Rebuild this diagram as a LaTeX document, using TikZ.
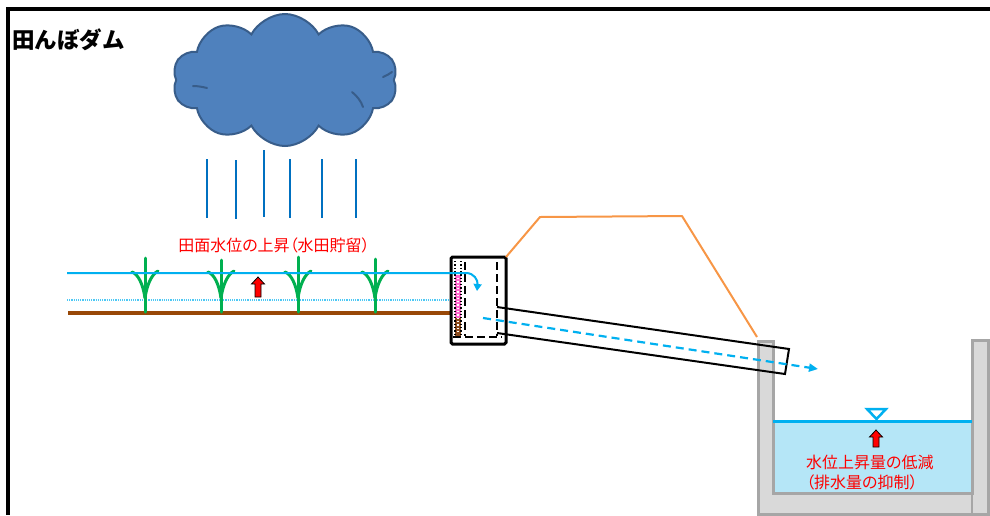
\documentclass[tikz,border=0pt]{standalone}
\usepackage{fontspec}
\usetikzlibrary{shapes.symbols,arrows.meta}
\newfontfamily\jp{Noto Sans CJK JP}
\newfontfamily\jpp[RawFeature=+palt]{Noto Sans CJK JP}
\definecolor{cloudfill}{HTML}{4F81BD}
\definecolor{cloudline}{HTML}{385D8A}
\definecolor{rain}{HTML}{0070C0}
\definecolor{water}{HTML}{00B0F0}
\definecolor{waterfill}{HTML}{B5E6F7}
\definecolor{soil}{HTML}{984807}
\definecolor{rice}{HTML}{00B050}
\definecolor{levee}{HTML}{F79646}
\definecolor{concrete}{HTML}{D9D9D9}
\definecolor{concreteline}{HTML}{A6A6A6}
\definecolor{board}{HTML}{FF66CC}
\definecolor{boardbase}{HTML}{8B4A1C}
\begin{document}
\begin{tikzpicture}[x=1pt,y=-1pt,
  raindrop/.style={rain,line width=1.3pt},
  plant/.style={rice,line width=3pt,line cap=round},
  redlabel/.style={text=red,inner sep=0pt},
  uparrow/.pic={\draw[black,fill=red,line width=0.8pt,line join=miter]
      (-3,#1)--(-3,7)--(-6.5,7)--(0,0)--(6.5,7)--(3,7)--(3,#1)--cycle;},
  riceplant/.pic={
    \draw[plant] (0,#1) -- (0,54);
    \draw[plant] (0,40) .. controls (-2,26) and (-7,16) .. (-13,14);
    \draw[plant] (0,40) .. controls (2,26) and (7,16) .. (13,13);
  },
]
\useasboundingbox (0,0) rectangle (990,515);

% frame
\draw[black,line width=4pt] (990,9) -- (8,9) -- (8,515);

% title
\node[anchor=west,inner sep=0pt,font=\jp\bfseries\fontsize{22.5}{26}\selectfont] (title) at (12,40) {田んぼダム};

% cloud and rain
\node[cloud,cloud puffs=10,cloud puff arc=125,aspect=1.7,draw=cloudline,fill=cloudfill,
      line width=2pt,minimum width=225pt,minimum height=132pt,inner sep=0pt] (cloud) at (285,80) {};
\begin{scope}[cloudline,line width=2pt,line cap=round]
  \draw (193,86) .. controls (198,86) and (203,87) .. (207,88);
  \draw (352,92) .. controls (357,96) and (361,101) .. (363,107);
  \draw (383,77) .. controls (386,76) and (389,74) .. (392,72);
\end{scope}
\foreach \x/\a/\b in {207/159/218, 236/160/219, 264/150/217, 290/159/218, 322/159/218, 356/159/218}
  \draw[raindrop] (\x,\a) -- (\x,\b);

% paddy field
\node[redlabel,font=\jpp\fontsize{16}{18}\selectfont] (fieldlabel) at (274,245) {田面水位の上昇（水田貯留）};
\draw[water!70,line width=1.2pt,densely dotted] (67,300) -- (452,300);
\draw[soil,line width=4pt] (68,313) -- (452,313);
\foreach \x/\t in {145/0, 221/2, 298/-1, 375/1}
  \pic at (\x,258) {riceplant=\t};
\pic at (258,277) {uparrow=20};

% drainage outlet box
\draw[black,line width=3pt,fill=white,rounded corners=1.5pt] (451,257) rectangle (506,344);
\fill[white] (455,261) rectangle (461,275);
\fill[board] (455,275) rectangle (461,318);
\fill[boardbase] (455,318) rectangle (461,336);
\draw[black,line width=1.3pt,dotted] (455,261) -- (455,336) (461,261) -- (461,336);
\draw[white,line width=1.3pt,dotted] (458,278) -- (458,334);
\draw[black,line width=2.5pt,dash pattern=on 8pt off 4pt] (465,262) -- (465,336);
\draw[black,line width=2.5pt,dash pattern=on 8pt off 4pt] (497,262) -- (497,336);
\draw[black,line width=2.5pt,dash pattern=on 8pt off 4pt] (453,337) -- (502,337);

% levee
\draw[levee,line width=2pt,line join=round] (506,257) -- (540,217) -- (682,216) -- (757,337);

% drainage canal
\fill[concrete] (758,341) -- (758,514) -- (988,514) -- (988,340) -- (972,340) -- (972,493) -- (773,493) -- (773,341) -- cycle;
\fill[waterfill] (773,421) rectangle (972,493);
\draw[concreteline,line width=3pt] (758,341) -- (758,514) -- (988,514) -- (988,340) -- (972,340) -- (972,493) -- (773,493) -- (773,341) -- cycle;
\draw[concreteline,line width=1.5pt] (972,493) -- (972,514);
\draw[water,line width=3pt] (773,421) -- (972,421);
\draw[water,line width=2.5pt,line join=miter] (867,409) -- (886,409) -- (876.5,419) -- cycle;
\pic at (876,430) {uparrow=17};
\node[redlabel,font=\jpp\fontsize{16}{20}\selectfont,align=left,anchor=north west] (canallabel) at (806,455)
  {水位上昇量の低減\\（排水量の抑制）};

% pipe
\draw[black,line width=2pt] (497,307) -- (789,349) -- (785,374) -- (497,333);

% water surface and flows
\draw[water,line width=2pt,-{Triangle[length=7pt,width=8pt]}] (67,273) -- (466,273) .. controls (474,273) and (478,280) .. (477,291);
\draw[water,line width=2.2pt,dash pattern=on 8pt off 5pt,-{Triangle[length=9pt,width=8pt]}] (483,318) -- (818,369);
\end{tikzpicture}
\end{document}
